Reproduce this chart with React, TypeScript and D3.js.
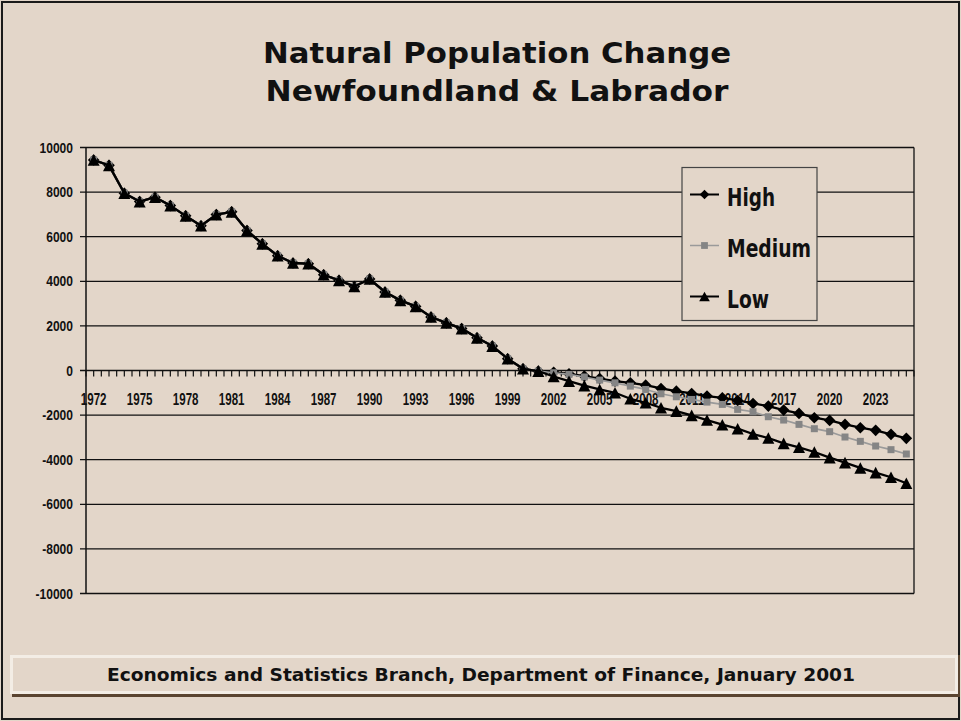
import React from "react";
import * as d3 from "d3";

const years: number[] = d3.range(1972, 2026);

// historical natural change 1972-2001 (shared by all series)
const history: number[] = [
  9440, 9200, 7950, 7575, 7770, 7395, 6935, 6490, 6990, 7115,
  6275, 5680, 5145, 4820, 4790, 4295, 4040, 3770, 4100, 3520,
  3145, 2875, 2400, 2135, 1880, 1465, 1095, 530, 76, -30,
];

// projections 2002-2025
const highProj: number[] = [
  -80, -150, -250, -360, -478, -552, -656, -805, -925, -1029,
  -1148, -1223, -1342, -1477, -1596, -1775, -1924, -2118, -2237, -2416,
  -2565, -2684, -2864, -3043,
];
const mediumProj: number[] = [
  -100, -175, -290, -430, -552, -701, -850, -1044, -1178, -1298,
  -1417, -1521, -1745, -1849, -2073, -2222, -2416, -2610, -2744, -2983,
  -3177, -3386, -3550, -3744,
];
const lowProj: number[] = [
  -270, -480, -680, -850, -1000, -1268, -1447, -1671, -1820, -2014,
  -2222, -2431, -2610, -2849, -3028, -3266, -3445, -3654, -3908, -4132,
  -4370, -4579, -4787, -5056,
];

const yTicks: number[] = [10000, 8000, 6000, 4000, 2000, 0, -2000, -4000, -6000, -8000, -10000];
const xLabelYears: number[] = years.filter((y) => (y - 1972) % 3 === 0 && y <= 2023);

const seriesNames: string[] = ["High", "Medium", "Low"];

const titleLines: string[] = ["Natural Population Change", "Newfoundland & Labrador"];
const footerText = "Economics and Statistics Branch, Department of Finance, January 2001";

const BG = "#E3D6C9";
const NARROW = "'Liberation Sans', Arial, sans-serif";
const TITLEFONT = "'Comic Sans MS', 'DejaVu Sans', sans-serif";

const diamondPath = (s: number) => `M0,${-s}L${s},0L0,${s}L${-s},0Z`;
const squarePath = (s: number) => `M${-s},${-s}H${s}V${s}H${-s}Z`;
const trianglePath = (w: number, h: number) => `M0,${-h}L${w},${h}L${-w},${h}Z`;

export default function App() {
  const W = 961, H = 721;
  const plotL = 86, plotR = 914, plotT = 147.5, plotB = 593.5;

  const x = d3.scaleBand<number>().domain(years).range([plotL, plotR]).padding(0);
  const bw = x.bandwidth();
  const cx = (yr: number) => (x(yr) as number) + bw / 2;
  const y = d3.scaleLinear().domain([-10000, 10000]).range([plotB, plotT]);

  const build = (proj: number[]) => years.map((yr, i) => ({ yr, v: i < history.length ? history[i] : proj[i - history.length] }));
  const series = [
    { name: seriesNames[0], data: build(highProj), stroke: "#000", sw: 2.3, marker: diamondPath(5.8), fill: "#000", legendMarker: diamondPath(4.8) },
    { name: seriesNames[1], data: build(mediumProj), stroke: "#9a9a9a", sw: 1.7, marker: squarePath(3.5), fill: "#858585", legendMarker: squarePath(3.4) },
    { name: seriesNames[2], data: build(lowProj), stroke: "#000", sw: 2.3, marker: trianglePath(6, 5.8), fill: "#000", legendMarker: trianglePath(5.3, 4.8) },
  ];

  const line = d3.line<{ yr: number; v: number }>().x((d) => cx(d.yr)).y((d) => y(d.v));

  const halfTicks = d3.range(0, years.length * 2 + 1).map((k) => plotL + (k * bw) / 2);
  const zeroY = y(0);

  const legendX = 682, legendY = 167.5, legendW = 135, legendH = 153;
  const legendRows = [194.5, 245.5, 296.5];
  const legendTextLen = [48, 84, 42];

  return (
    <svg width={W} height={H} style={{ position: "absolute", left: 0, top: 0, display: "block" }}>
      <rect x={0} y={0} width={W} height={H} fill={BG} />
      <rect x={2} y={2} width={957} height={717} fill="none" stroke="#1a1a1a" strokeWidth={2} />

      {titleLines.map((t, i) => (
        <text key={t} x={497} y={63 + i * 38} textAnchor="middle" fontFamily={TITLEFONT} fontWeight="bold" fontSize={28}
          fill="#111" textLength={i === 0 ? 468 : 463} lengthAdjust="spacingAndGlyphs">{t}</text>
      ))}

      {/* gridlines */}
      {yTicks.map((t) => (
        <line key={t} x1={plotL - 6} x2={plotR} y1={y(t)} y2={y(t)} stroke="#111" strokeWidth={1.3} />
      ))}
      <line x1={plotL} x2={plotL} y1={plotT} y2={plotB} stroke="#111" strokeWidth={1.5} />
      <line x1={plotR} x2={plotR} y1={plotT} y2={plotB} stroke="#111" strokeWidth={1.3} />
      {halfTicks.map((tx, i) => (
        <line key={i} x1={tx} x2={tx} y1={zeroY} y2={zeroY + 6} stroke="#111" strokeWidth={1.2} />
      ))}

      {yTicks.map((t) => (
        <text key={t} transform={`translate(73,${y(t)}) scale(0.86,1)`} dy="0.36em" textAnchor="end" fontFamily={NARROW}
          fontWeight="bold" fontSize={14} fill="#111">{t}</text>
      ))}
      {xLabelYears.map((yr) => (
        <text key={yr} transform={`translate(${cx(yr)},404.5) scale(0.7,1)`} textAnchor="middle" fontFamily={NARROW}
          fontWeight="bold" fontSize={16.5} fill="#111">{yr}</text>
      ))}

      {/* series */}
      {series.map((s) => (
        <g key={s.name}>
          <path d={line(s.data) || ""} fill="none" stroke={s.stroke} strokeWidth={s.sw} strokeLinejoin="round" />
          {s.data.map((d) => (
            <path key={d.yr} d={s.marker} transform={`translate(${cx(d.yr)},${y(d.v)})`} fill={s.fill} />
          ))}
        </g>
      ))}

      {/* legend */}
      <rect x={legendX} y={legendY} width={legendW} height={legendH} fill={BG} stroke="#444" strokeWidth={1.2} />
      {series.map((s, i) => (
        <g key={s.name}>
          <line x1={690} x2={719} y1={legendRows[i]} y2={legendRows[i]} stroke={s.stroke} strokeWidth={s.sw > 2 ? 2 : 1.5} />
          <path d={s.legendMarker} transform={`translate(704.5,${legendRows[i]})`} fill={s.fill} />
          <text x={727} y={legendRows[i] + 11} fontFamily={TITLEFONT} fontWeight="bold" fontSize={25} fill="#111"
            textLength={legendTextLen[i]} lengthAdjust="spacingAndGlyphs">{s.name}</text>
        </g>
      ))}

      {/* footer */}
      <line x1={12} x2={960} y1={695.5} y2={695.5} stroke="#5A4430" strokeWidth={3} />
      <line x1={958.5} x2={958.5} y1={655} y2={697} stroke="#5A4430" strokeWidth={3} />
      <rect x={11.5} y={656.5} width={945} height={36} fill={BG} stroke="#F3EDE5" strokeWidth={3} />
      <text x={481} y={681} textAnchor="middle" fontFamily={TITLEFONT} fontWeight="bold" fontSize={17} fill="#111"
        textLength={748} lengthAdjust="spacingAndGlyphs">{footerText}</text>
    </svg>
  );
}
